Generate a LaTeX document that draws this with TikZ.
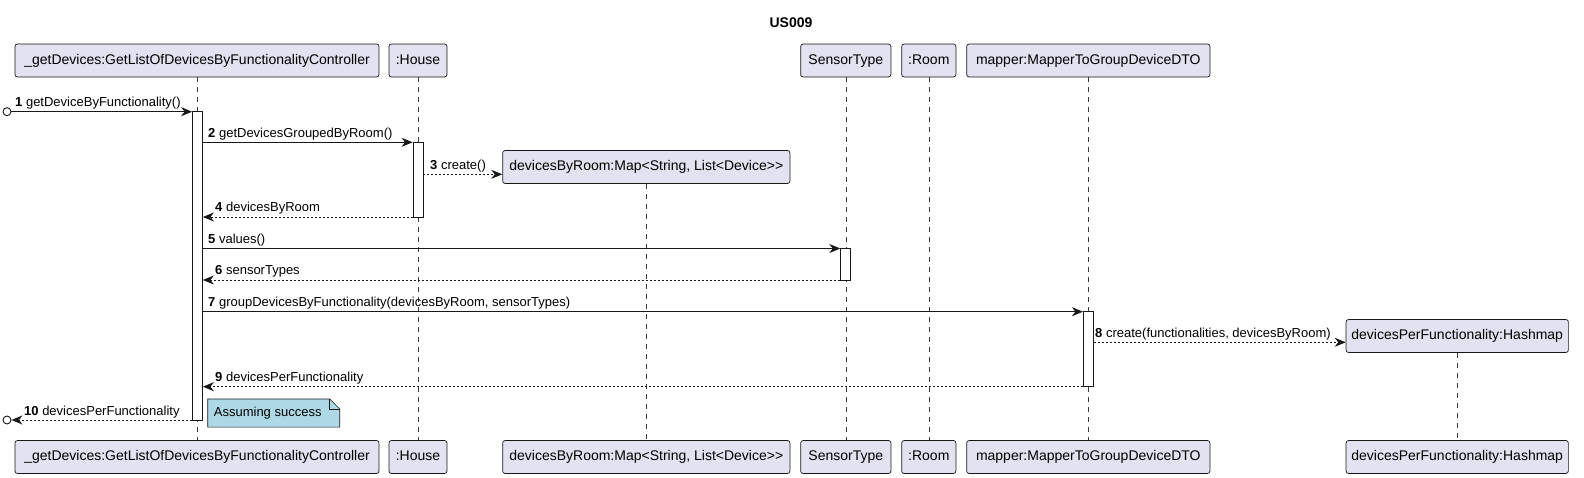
\documentclass[tikz,border=0pt]{standalone}
\usepackage{fontspec}
\setmainfont{Liberation Sans}
\usetikzlibrary{arrows.meta}
\definecolor{partf}{HTML}{E2E2F0}
\definecolor{linec}{HTML}{181818}
\definecolor{notef}{HTML}{ADD8E6}
\begin{document}
\begin{tikzpicture}[x=1pt,y=-1pt,
  part/.style={draw=linec, fill=partf, rounded corners=2.5pt, line width=0.7pt, minimum height=33pt, inner sep=0pt, text height=10.2pt, text depth=2.8pt, font=\fontsize{14}{16}\selectfont},
  act/.style={draw=linec, fill=white, line width=0.8pt, minimum width=10pt, inner sep=0pt},
  life/.style={draw=linec!85, dash pattern=on 5pt off 5pt, line width=0.5pt},
  msg/.style={draw=linec, line width=0.8pt, -{Stealth[length=11pt,width=9pt,inset=3.5pt]}},
  ret/.style={msg, dash pattern=on 2pt off 2pt},
  lbl/.style={font=\fontsize{13}{15}\selectfont, inner sep=0pt, anchor=base west},
  endpt/.style={circle, draw=linec, fill=white, line width=0.9pt, minimum size=8pt, inner sep=0pt},
  notebox/.style={draw=none, minimum width=131.6pt, minimum height=27.7pt, inner sep=0pt, anchor=north west},
]
\useasboundingbox (0,0) rectangle (1584,478);

\node[font=\bfseries\fontsize{14}{16}\selectfont] (title) at (791,23) {US009};

% participants top
\node[part, minimum width=364pt] (C) at (197,60.5) {\_getDevices:GetListOfDevicesByFunctionalityController};
\node[part, minimum width=58pt] (H) at (418,60.5) {:House};
\node[part, minimum width=287.3pt] (D) at (646.3,167) {devicesByRoom:Map<String, List<Device>{}>};
\node[part, minimum width=90.3pt] (S) at (845.8,60.5) {SensorType};
\node[part, minimum width=54.3pt] (R) at (928.8,60.5) {:Room};
\node[part, minimum width=243.3pt] (M) at (1088.3,60.5) {mapper:MapperToGroupDeviceDTO};
\node[part, minimum width=222.3pt] (P) at (1457.2,336) {devicesPerFunctionality:Hashmap};
% participants bottom
\node[part, minimum width=364pt] (Cb) at (197,457) {\_getDevices:GetListOfDevicesByFunctionalityController};
\node[part, minimum width=58pt] (Hb) at (418,457) {:House};
\node[part, minimum width=287.3pt] (Db) at (646.3,457) {devicesByRoom:Map<String, List<Device>{}>};
\node[part, minimum width=90.3pt] (Sb) at (845.8,457) {SensorType};
\node[part, minimum width=54.3pt] (Rb) at (928.8,457) {:Room};
\node[part, minimum width=243.3pt] (Mb) at (1088.3,457) {mapper:MapperToGroupDeviceDTO};
\node[part, minimum width=222.3pt] (Pb) at (1457.2,457) {devicesPerFunctionality:Hashmap};

% lifelines
\draw[life] (C.south) -- (Cb.north);
\draw[life] (H.south) -- (Hb.north);
\draw[life] (D.south) -- (Db.north);
\draw[life] (S.south) -- (Sb.north);
\draw[life] (R.south) -- (Rb.north);
\draw[life] (M.south) -- (Mb.north);
\draw[life] (P.south) -- (Pb.north);

% activations
\node[act, minimum height=308.3pt] (aC) at (197.5,265.85) {};
\node[act, minimum height=74.7pt] (aH) at (418,179.65) {};
\node[act, minimum height=31.5pt] (aS) at (845.7,264.25) {};
\node[act, minimum height=75pt] (aM) at (1088.3,349.2) {};

% found / lost endpoints
\node[endpt] (o1) at (7,111.7) {};
\node[endpt] (o10) at (7,420) {};

% messages
\draw[msg] (o1.east) -- (aC.west |- o1);
\node[lbl] (l1) at (15,106.7) {\textbf{1} getDeviceByFunctionality()};

\draw[msg] (aC.east |- 0,142.3) -- (aH.west |- 0,142.3);
\node[lbl] (l2) at (208,137.3) {\textbf{2} getDevicesGroupedByRoom()};

\draw[ret] (aH.east |- 0,174.3) -- (D.west |- 0,174.3);
\node[lbl] (l3) at (430,169.3) {\textbf{3} create()};

\draw[ret] (aH.west |- 0,217) -- (aC.east |- 0,217);
\node[lbl] (l4) at (215,212) {\textbf{4} devicesByRoom};

\draw[msg] (aC.east |- 0,248.5) -- (aS.west |- 0,248.5);
\node[lbl] (l5) at (208,243.5) {\textbf{5} values()};

\draw[ret] (aS.west |- 0,280) -- (aC.east |- 0,280);
\node[lbl] (l6) at (215,275) {\textbf{6} sensorTypes};

\draw[msg] (aC.east |- 0,311.7) -- (aM.west |- 0,311.7);
\node[lbl] (l7) at (208,306.7) {\textbf{7} groupDevicesByFunctionality(devicesByRoom, sensorTypes)};

\draw[ret] (aM.east |- 0,342.3) -- (P.west |- 0,342.3);
\node[lbl] (l8) at (1095,337.3) {\textbf{8} create(functionalities, devicesByRoom)};

\draw[ret] (aM.west |- 0,386.7) -- (aC.east |- 0,386.7);
\node[lbl] (l9) at (215,381.7) {\textbf{9} devicesPerFunctionality};

\draw[ret] (aC.west |- o10) -- (o10.east);
\node[lbl] (l10) at (24,415) {\textbf{10} devicesPerFunctionality};

% note
\node[notebox] (note) at (207.7,399) {};
\draw[draw=linec, fill=notef, line width=0.6pt] (note.north west) -- ([xshift=-10pt]note.north east) -- ([yshift=-10pt]note.north east) -- (note.south east) -- (note.south west) -- cycle;
\draw[draw=linec, line width=0.6pt] ([xshift=-10pt]note.north east) -- ([xshift=-10pt,yshift=-10pt]note.north east) -- ([yshift=-10pt]note.north east);
\node[font=\fontsize{13}{15}\selectfont, inner sep=0pt, anchor=west] (notetxt) at ([xshift=6pt]note.west) {Assuming success};
\end{tikzpicture}
\end{document}
